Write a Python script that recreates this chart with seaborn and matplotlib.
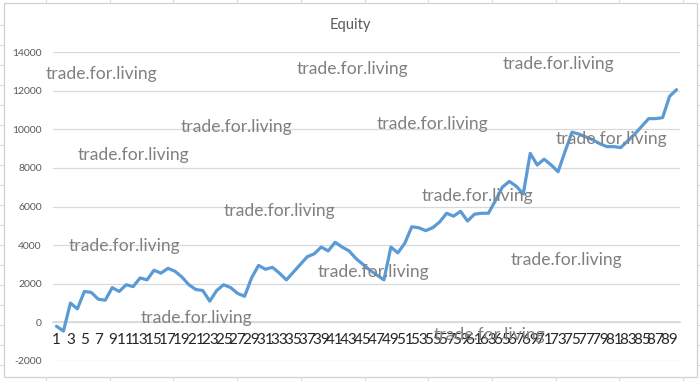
import numpy as np
import pandas as pd
import seaborn as sns
import matplotlib
matplotlib.use("Agg")
import matplotlib.pyplot as plt
from matplotlib.lines import Line2D
from matplotlib.patches import Rectangle

sns.set_theme(style="white")
plt.rcParams['font.family'] = ['Lato', 'DejaVu Sans']

# ---- data ----
trade_no = list(range(1, 91))
equity = [-200, -450, 1000, 700, 1600, 1550, 1200, 1150, 1800, 1600,
          1950, 1850, 2300, 2200, 2700, 2550, 2800, 2650, 2350, 1950,
          1700, 1650, 1100, 1650, 1950, 1800, 1500, 1350, 2300, 2950,
          2750, 2850, 2550, 2200, 2600, 3000, 3400, 3550, 3900, 3700,
          4150, 3900, 3700, 3300, 3000, 2700, 2450, 2200, 3900, 3600,
          4100, 4950, 4900, 4750, 4900, 5200, 5650, 5500, 5750, 5250,
          5600, 5650, 5650, 6300, 7000, 7300, 7050, 6650, 8750, 8150,
          8450, 8150, 7800, 8850, 9850, 9750, 9600, 9450, 9250, 9100,
          9100, 9050, 9400, 9750, 10150, 10550, 10550, 10600, 11700, 12050]
y_ticks = [-2000, 0, 2000, 4000, 6000, 8000, 10000, 12000, 14000]
x_tick_labels = [str(i) for i in range(1, 90, 2)]
title = "Equity"
watermark = "trade.for.living"
# watermark anchor points (figure pixels: left x, centre y from top)
wm_x = [46, 297, 503, 181, 377, 78, 556, 422, 224, 69, 318, 511, 141, 434]
wm_y = [74, 69, 64, 127, 124, 155, 139, 196, 211, 246, 272, 260, 318, 335]

W, H = 700, 381
fig = plt.figure(figsize=(W / 100, H / 100), dpi=100)
fig.patch.set_facecolor("white")

# spreadsheet background grid outside chart box
for xv in np.arange(46, W, 63.7):
    fig.add_artist(Line2D([xv / W, xv / W], [1 - 3 / H, 1], color="#dadada", lw=0.8))
    fig.add_artist(Line2D([xv / W, xv / W], [0, 1 - 377 / H], color="#dadada", lw=0.8))
for yv in np.arange(25, H, 20):
    fig.add_artist(Line2D([0, 4 / W], [1 - yv / H, 1 - yv / H], color="#dadada", lw=0.8))
    fig.add_artist(Line2D([697 / W, 1], [1 - yv / H, 1 - yv / H], color="#dadada", lw=0.8))
fig.add_artist(Rectangle((4 / W, 1 - 377 / H), 693 / W, 374 / H, fill=False,
                         edgecolor="#d0d0d0", lw=0.9, transform=fig.transFigure))

left, right, top, bottom = 53, 680, 52, 361
ax = fig.add_axes([left / W, 1 - bottom / H, (right - left) / W, (bottom - top) / H])
df = pd.DataFrame({"trade": trade_no, "equity": equity})
sns.lineplot(data=df, x="trade", y="equity", ax=ax, color="#5B9BD5", lw=2.3, zorder=3)

ax.set_xlim(0.5, 90.5)
ax.set_ylim(-2000, 14000)
ax.set_yticks(y_ticks)
ax.set_yticklabels([str(v) for v in y_ticks], fontsize=7.5, color="#595959")
ax.set_xticks(list(range(1, 90, 2)))
ax.set_xticklabels(x_tick_labels, fontsize=5.8, color="#595959")
ax.grid(axis="y", color="#d9d9d9", lw=0.9)
ax.set_axisbelow(True)
for s in ["top", "right", "left"]:
    ax.spines[s].set_visible(False)
ax.spines["bottom"].set_position(("data", 0))
ax.spines["bottom"].set_color("#d9d9d9")
ax.tick_params(axis="x", length=0, pad=8)
ax.tick_params(axis="y", length=0, pad=8)
ax.set_xlabel("")
ax.set_ylabel("")

fig.text(350 / W, 1 - 25 / H, title, ha="center", va="center", fontsize=10.5, color="#595959")

for xp, yp in zip(wm_x, wm_y):
    fig.text(xp / W, 1 - yp / H, watermark, ha="left", va="center",
             fontsize=12.6, color="#808080", zorder=10)

fig.savefig("out.png", dpi=100)
